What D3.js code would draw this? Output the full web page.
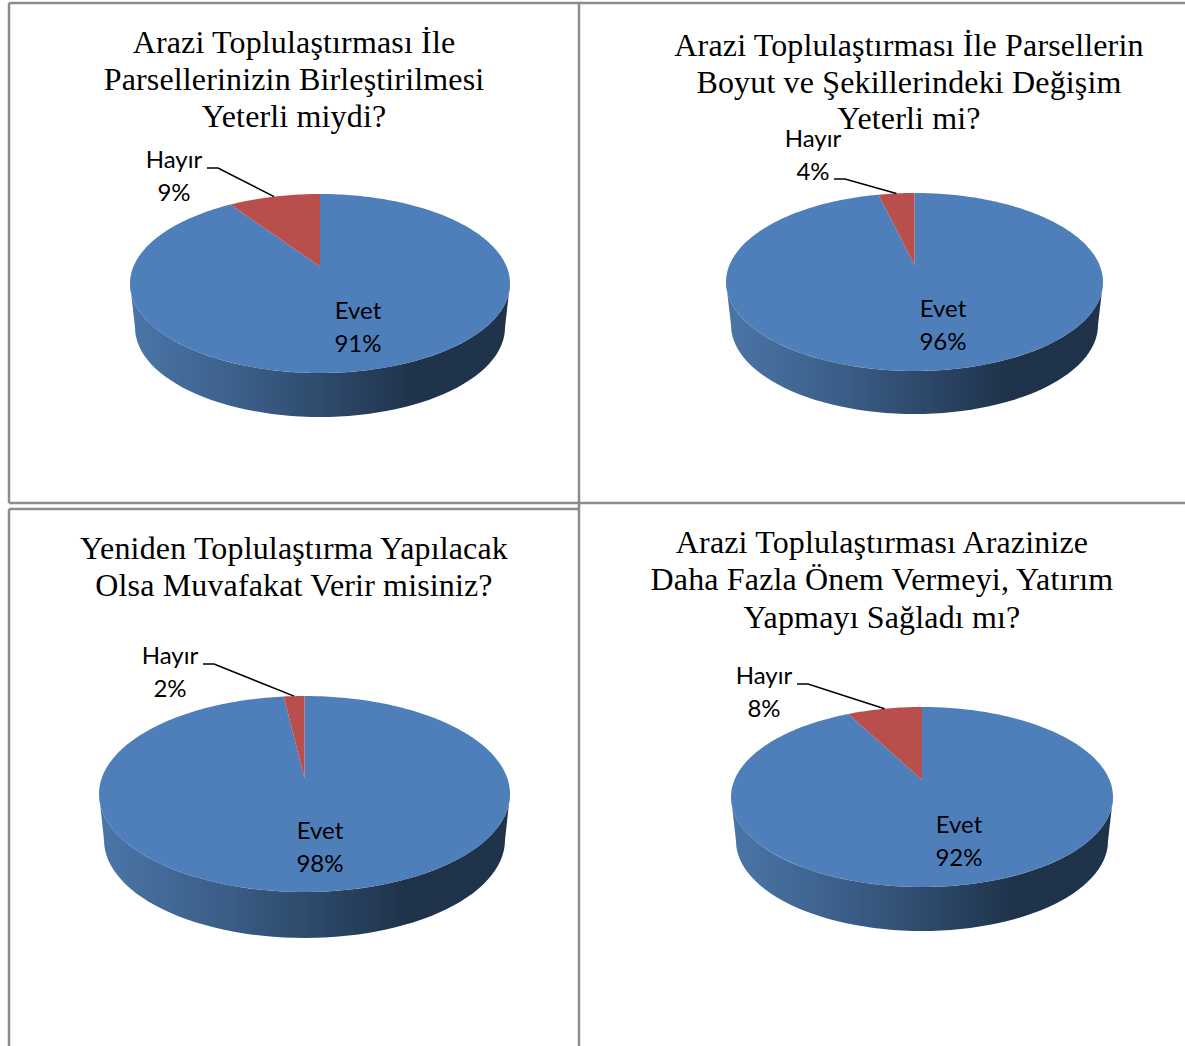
<!DOCTYPE html>
<html>
<head>
<meta charset="utf-8">
<script src="https://cdn.jsdelivr.net/npm/d3@7"></script>
<style>
html,body{margin:0;padding:0;background:#fff;overflow:hidden}
svg{display:block}
</style>
</head>
<body>
<svg id="chart" width="1185" height="1046"></svg>
<script>
var categories = ["Evet","Hayır"];
var titles1 = ["Arazi Toplulaştırması İle","Parsellerinizin Birleştirilmesi","Yeterli miydi?"];
var titles2 = ["Arazi Toplulaştırması İle Parsellerin","Boyut ve Şekillerindeki Değişim","Yeterli mi?"];
var titles3 = ["Yeniden Toplulaştırma Yapılacak","Olsa Muvafakat Verir misiniz?"];
var titles4 = ["Arazi Toplulaştırması Arazinize","Daha Fazla Önem Vermeyi, Yatırım","Yapmayı Sağladı mı?"];
// slices, labels show them rounded
var values1 = [90.6,9.4];
var values2 = [96.3,3.7];
var values3 = [98.1,1.9];
var values4 = [92.4,7.6];

// layout of each panel, separate from the values
var panels = [
	{titles:titles1,values:values1,left:130,right:510,top:194,bottom:373,depth:44,tilt:0.19,titleX:294,titleY:[53,90,127],evet:[358,319],hayir:[174,168],lead:[207,168]},
	{titles:titles2,values:values2,left:726,right:1103,top:193,bottom:371,depth:43,tilt:0.19,titleX:909,titleY:[56,93,129],evet:[943,317],hayir:[813,147],lead:[834,179]},
	{titles:titles3,values:values3,left:99,right:510,top:696,bottom:892,depth:46,tilt:0.16,titleX:294,titleY:[559,596],evet:[320,839],hayir:[170,664],lead:[203,664]},
	{titles:titles4,values:values4,left:731,right:1113,top:707,bottom:887,depth:44,tilt:0.19,titleX:882,titleY:[553,590,628],evet:[959,833],hayir:[764,684],lead:[797,684]}
];

var svg = d3.select("#chart");
var defs = svg.append("defs");
var grad = defs.append("linearGradient").attr("id","wall");
grad.append("stop").attr("offset","0%").attr("stop-color","#4a76a8");
grad.append("stop").attr("offset","30%").attr("stop-color","#3b5e88");
grad.append("stop").attr("offset","76%").attr("stop-color","#1e3249");
grad.append("stop").attr("offset","100%").attr("stop-color","#1f334b");

// table borders
var borders = [[9,3,1185,3],[9,3,9,503],[9,503,1185,503],[9,509,579,509],[9,509,9,1046],[579,3,579,1046]];
svg.selectAll("line.border").data(borders).enter().append("line")
	.attr("class","border")
	.attr("x1",d=>d[0]).attr("y1",d=>d[1]).attr("x2",d=>d[2]).attr("y2",d=>d[3])
	.attr("stroke","#8c8c8c").attr("stroke-width",2.5);

var pie = d3.pie().sort(null);
var line = d3.line();

panels.forEach(function(p){
	var g = svg.append("g");
	var cx = (p.left+p.right)/2, cy = (p.top+p.bottom)/2;
	var x = d3.scaleLinear().domain([-1,1]).range([p.left,p.right]);
	var y = d3.scaleLinear().domain([-1,1]).range([p.bottom,p.top]);

	// point on the top of the pie, centre is pushed back by the perspective
	function project(r,ang){
		var u = r*Math.sin(ang), v = r*Math.cos(ang), a = p.tilt, k = 1+a*v;
		return [x(u*Math.sqrt(1-a*a)/k), y((v+a)/k)];
	}

	// side wall
	var inset = 5, ry = (p.bottom-p.top)/2, wall = [];
	d3.range(0,181,3).forEach(function(t){
		var r = t*Math.PI/180;
		wall.push([x(Math.cos(r)), cy+ry*Math.sin(r)]);
	});
	d3.range(180,-1,-3).forEach(function(t){
		var r = t*Math.PI/180;
		wall.push([cx+((p.right-p.left)/2-inset)*Math.cos(r), cy+p.depth+ry*Math.sin(r)]);
	});
	g.append("path").attr("d",line(wall)+"Z").attr("fill","url(#wall)");

	// slices
	g.selectAll("path.slice").data(pie(p.values)).enter().append("path")
		.attr("class","slice")
		.attr("fill",(d,i)=>i==0?"#4f7fbb":"#b94f4c")
		.attr("d",function(d){
			var pts = [project(0,0)];
			var n = Math.ceil((d.endAngle-d.startAngle)/0.02);
			for(var i=0;i<=n;i++){
				pts.push(project(1,d.startAngle+(d.endAngle-d.startAngle)*i/n));
			}
			return line(pts)+"Z";
		});

	// leader line goes to the middle of the Hayır rim
	var s = pie(p.values)[1];
	var end = project(1,(s.startAngle+s.endAngle)/2);
	g.append("path")
		.attr("d",line([p.lead,[p.lead[0]+11,p.lead[1]],end]))
		.attr("fill","none").attr("stroke","#000").attr("stroke-width",1.6);

	g.selectAll("text.title").data(p.titles).enter().append("text")
		.attr("class","title")
		.attr("x",p.titleX).attr("y",(d,i)=>p.titleY[i])
		.attr("text-anchor","middle")
		.style("font-family","'Liberation Serif'").style("font-size","32px").style("letter-spacing","0.15px").style("fill","#000")
		.text(d=>d);

	[[0,p.evet],[1,p.hayir]].forEach(function(l){
		g.append("text").attr("x",l[1][0]).attr("y",l[1][1]).attr("text-anchor","middle")
			.style("font-family","Lato").style("font-size","24px").style("fill","#000")
			.text(categories[l[0]]);
		g.append("text").attr("x",l[1][0]).attr("y",l[1][1]+32.5).attr("text-anchor","middle")
			.style("font-family","Lato").style("font-size","24px").style("fill","#000")
			.text(Math.round(p.values[l[0]])+"%");
	});
});
</script>
</body>
</html>
